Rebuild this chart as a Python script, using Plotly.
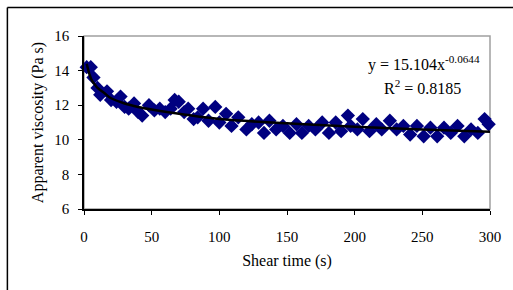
import plotly.graph_objects as go

shear_time = [2, 5, 7, 10, 12, 17, 20, 24, 27, 30, 33, 37, 40, 43, 48, 52, 56, 60, 64, 67,
              70, 74, 77, 81, 84, 88, 92, 97, 100, 105, 109, 114, 120, 124, 129, 133, 137,
              142, 147, 152, 157, 161, 166, 171, 176, 181, 186, 190, 195, 197, 202, 206,
              211, 216, 220, 226, 231, 236, 241, 246, 251, 256, 261, 266, 271, 276, 281,
              286, 291, 296, 299]
viscosity = [14.2, 14.2, 13.6, 13.0, 12.6, 12.8, 12.3, 12.2, 12.5, 11.9, 11.8, 12.1, 11.6,
             11.4, 12.0, 11.7, 11.8, 11.6, 11.8, 12.3, 12.2, 11.6, 11.8, 11.2, 11.3, 11.8,
             11.1, 11.9, 11.0, 11.5, 10.8, 11.3, 10.6, 10.9, 11.0, 10.4, 11.1, 10.6, 10.8,
             10.4, 10.9, 10.4, 10.8, 10.6, 11.0, 10.4, 11.0, 10.5, 11.4, 10.8, 10.6, 11.2,
             10.5, 10.9, 10.6, 11.1, 10.6, 10.8, 10.3, 10.8, 10.2, 10.7, 10.2, 10.7, 10.4,
             10.8, 10.2, 10.6, 10.4, 11.2, 10.9]

# Power trendline
trend_time = [2, 4, 6, 8, 10, 15, 20, 30, 40, 50, 75, 100, 150, 200, 250, 300]
trend_visc = [14.4, 13.8, 13.4, 13.2, 13.0, 12.7, 12.4, 12.1, 11.9, 11.75, 11.45, 11.2,
              10.95, 10.75, 10.6, 10.46]

x_ticks = [0, 50, 100, 150, 200, 250, 300]
y_ticks = [6, 8, 10, 12, 14, 16]

FONT = "Times New Roman, Liberation Serif, serif"

fig = go.Figure()
fig.add_trace(go.Scatter(
    x=shear_time, y=viscosity, mode="markers",
    marker=dict(symbol="diamond", size=11, color="#000080",
                line=dict(width=0)),
    showlegend=False, cliponaxis=False))
fig.add_trace(go.Scatter(
    x=trend_time, y=trend_visc, mode="lines", line_shape="spline",
    line=dict(color="black", width=2.5), showlegend=False))

fig.add_shape(type="rect", xref="x domain", yref="y domain", x0=0, x1=1, y0=0, y1=1,
              line=dict(color="#a0a0a0", width=1.5), layer="below")
# outer chart frame (top and left edges; the rest lies outside the window)
fig.add_shape(type="line", xref="paper", yref="paper", x0=-0.1887, x1=1.06,
              y0=1.165, y1=1.165, line=dict(color="black", width=1.5))
fig.add_shape(type="line", xref="paper", yref="paper", x0=-0.1887, x1=-0.1887,
              y0=-0.5, y1=1.165, line=dict(color="black", width=1.5))

fig.add_annotation(xref="paper", yref="paper", x=0.694, y=0.913, showarrow=False,
                   xanchor="left", yanchor="top", align="left",
                   text="y = 15.104x<sup>-0.0644</sup>",
                   font=dict(family=FONT, size=16, color="black"))
fig.add_annotation(xref="paper", yref="paper", x=0.735, y=0.775, showarrow=False,
                   xanchor="left", yanchor="top", align="left",
                   text="R<sup>2</sup> = 0.8185",
                   font=dict(family=FONT, size=16, color="black"))

fig.update_xaxes(range=[0, 300], tickvals=x_ticks, ticks="outside", ticklen=4,
                 tickcolor="black", showline=True, linecolor="black", linewidth=1.5,
                 showgrid=False, zeroline=False, ticklabelstandoff=9,
                 tickfont=dict(family=FONT, size=15, color="black"),
                 title=dict(text="Shear time (s)", standoff=11,
                            font=dict(family=FONT, size=16, color="black")))
fig.update_yaxes(range=[6, 16], tickvals=y_ticks, ticks="outside", ticklen=4,
                 tickcolor="black", showline=True, linecolor="black", linewidth=1.5,
                 showgrid=False, zeroline=False, ticklabelstandoff=6,
                 tickfont=dict(family=FONT, size=15, color="black"),
                 title=dict(text="Apparent viscosity (Pa s)", standoff=7,
                            font=dict(family=FONT, size=16, color="black")))

fig.update_layout(width=513, height=290, margin=dict(l=84, r=21, t=36, b=81),
                  paper_bgcolor="white", plot_bgcolor="white")
fig.write_html("out.html", config={"displayModeBar": False},
               post_script="document.body.style.margin='0';")
